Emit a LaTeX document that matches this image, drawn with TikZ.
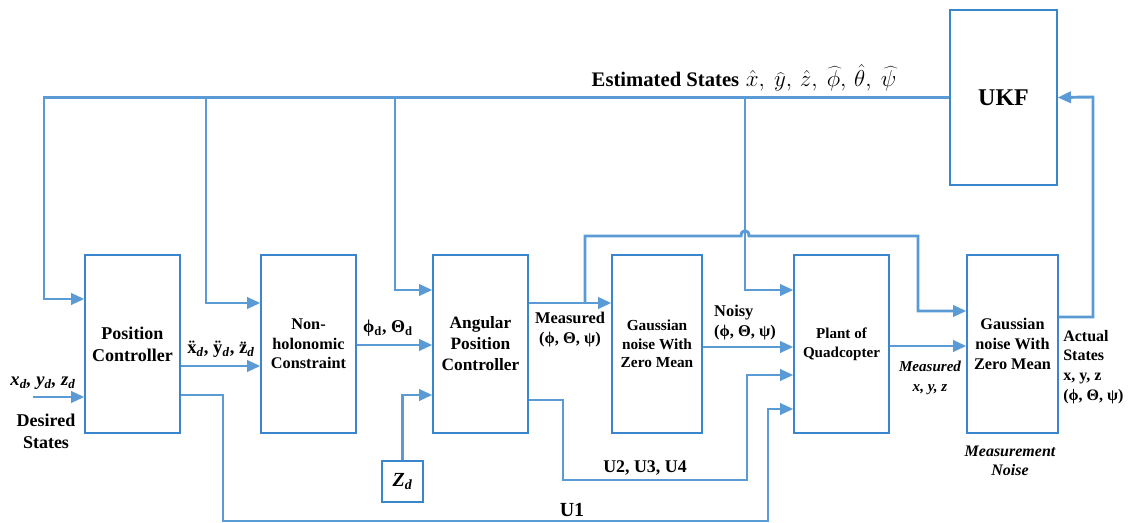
\documentclass[tikz,border=0pt]{standalone}
\usepackage{fontspec}
\setmainfont{Liberation Serif}
\usetikzlibrary{arrows.meta}
\definecolor{lineblue}{HTML}{5B9BD5}
\definecolor{boxblue}{HTML}{3A86CC}
\newcommand{\fsz}[2]{\fontsize{#1}{#2}\selectfont}
\begin{document}
\begin{tikzpicture}[x=0.75pt,y=-0.75pt,
  blk/.style={draw=boxblue, line width=1pt, minimum width=71.25pt, minimum height=133.5pt, align=center, inner sep=0pt},
  conn/.style={draw=lineblue, line width=2.2pt},
  arr/.style={conn, -{Triangle[length=10pt,width=8.5pt]}},
  lbl/.style={align=center, inner sep=0pt}]
\useasboundingbox (0,0) rectangle (1131,523);

% blocks
\node[blk, font=\bfseries\fsz{13.5}{16.5}] (pc) at (132.5,344) {Position\\Controller};
\node[blk, font=\bfseries\fsz{12.2}{14.8}] (nh) at (308.5,344) {Non-\\holonomic\\Constraint};
\node[blk, font=\bfseries\fsz{13}{15.8}] (apc) at (480.5,344) {Angular\\Position\\Controller};
\node[blk, minimum width=67.5pt, font=\bfseries\fsz{11.5}{14}] (g1) at (657,344) {Gaussian\\noise With\\Zero Mean};
\node[blk, font=\bfseries\fsz{11.3}{14}] (plant) at (841.5,344) {Plant of\\Quadcopter};
\node[blk, minimum width=68.25pt, font=\bfseries\fsz{12.2}{15}] (g2) at (1012.5,344) {Gaussian\\noise With\\Zero Mean};
\node[blk, minimum width=80.25pt, minimum height=131.25pt, font=\bfseries\fsz{18}{20}] (ukf) at (1003.5,97.5) {UKF};
\node[blk, minimum width=30.75pt, minimum height=30.75pt, font=\bfseries\itshape\fsz{15}{17}] (zd) at (402.5,481.5) {Z\textsubscript{d}};

% estimated states feedback
\draw[arr] (ukf.west) -| (44,299) -- (pc.west |- 0,299);
\coordinate (b1) at (206,97);
\coordinate (b2) at (395,97);
\coordinate (b3) at (745,97);
\draw[arr] (b1) |- (nh.west |- 0,303);
\draw[arr] (b2) |- (apc.west |- 0,290);
\draw[arr] (b3) |- (plant.west |- 0,290);

% forward path
\draw[arr] (pc.east |- 0,366) -- (nh.west |- 0,366);
\draw[arr] (pc.east |- 0,395) -| (223,521) -| (768,409) -- (plant.west |- 0,409);
\draw[arr] (nh.east |- 0,345) -- (apc.west |- 0,345);
\draw[arr] (zd.north) |- (apc.west |- 0,395);
\draw[arr] (apc.east |- 0,400) -| (563,480) -| (747,375) -- (plant.west |- 0,375);
\draw[arr] (apc.east |- 0,303) -- (g1.west |- 0,303);
\coordinate (b4) at (585,303);
\draw[arr] (b4) |- (741,236) .. controls (741,229) and (749,229) .. (749,236) -| (918,311) -- (g2.west |- 0,311);
\draw[arr] (g1.east |- 0,347) -- (plant.west |- 0,347);
\draw[arr] (plant.east |- 0,346) -- (g2.west |- 0,346);
\draw[arr] (g2.east |- 0,317) -| (1093,97) -- (ukf.east);
\coordinate (din) at (33,397);
\draw[arr] (din) -- (pc.west |- 0,397);

% labels
\node[lbl] (est) at (744,78) {{\bfseries\fsz{15.5}{18}Estimated States}\ \ {\fsz{16}{18}$\hat{x},\ \widehat{y},\,\hat{z},\ \widehat{\phi},\,\hat{\theta},\ \widehat{\psi}$}};
\node[lbl, font=\bfseries\fsz{14}{16}] (acc) at (221,349) {\"x\textsubscript{\itshape d}, \"y\textsubscript{\itshape d}, \"z\textsubscript{\itshape d}};
\node[lbl, font=\bfseries\itshape\fsz{14}{16}] (pos) at (43,383) {x\textsubscript{d}, y\textsubscript{d}, z\textsubscript{d}};
\node[lbl, font=\bfseries\fsz{13.5}{16.5}] (des) at (46,431) {Desired\\States};
\node[lbl, font=\bfseries\fsz{13.5}{16}] (ang) at (388,328) {ϕ\textsubscript{d}, Θ\textsubscript{d}};
\node[lbl, font=\bfseries\fsz{12.3}{15}] (meas) at (570,330) {Measured\\(ϕ, Θ, ψ)};
\node[lbl, align=left, font=\bfseries\fsz{12.3}{15}] (noisy) at (745,323) {Noisy\\(ϕ, Θ, ψ)};
\node[lbl, font=\bfseries\itshape\fsz{11.3}{14.5}] (mxyz) at (930,378) {Measured\\x, y, z};
\node[lbl, font=\bfseries\itshape\fsz{12}{14.5}] (mnoise) at (1010,461) {Measurement\\Noise};
\node[lbl, align=left, anchor=west, font=\bfseries\fsz{12}{14.8}] (act) at (1063,367) {Actual\\States\\x, y, z\\(ϕ, Θ, ψ)};
\node[lbl, font=\bfseries\fsz{13.4}{16}] (u234) at (645,468) {U2, U3, U4};
\node[lbl, font=\bfseries\fsz{15}{17}] (u1) at (572,510) {U1};
\end{tikzpicture}
\end{document}
